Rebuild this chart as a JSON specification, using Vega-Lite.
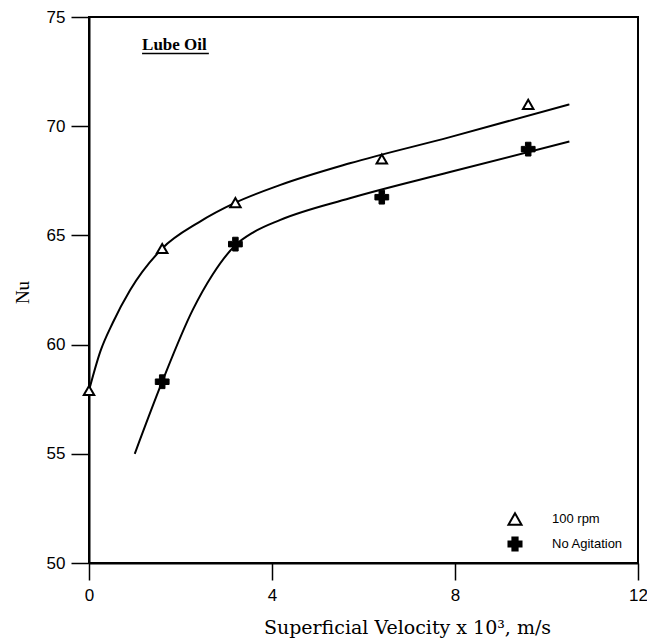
{
  "$schema": "https://vega.github.io/schema/vega-lite/v6.json",
  "width": 549,
  "height": 546,
  "autosize": {"type": "none"},
  "padding": {"left": 89, "top": 17, "right": 9, "bottom": 75},
  "background": "white",
  "config": {
    "view": {"stroke": "black", "strokeWidth": 2},
    "axis": {"grid": false, "domainColor": "black", "domainWidth": 2, "tickColor": "black", "tickWidth": 1.5, "labelColor": "black", "titleColor": "black", "labelFont": "Liberation Sans", "labelFontSize": 17, "titleFontWeight": "normal", "labelFlush": false},
    "legend": {"labelColor": "black"}
  },
  "datasets": {
    "points": [
      {"series": "100 rpm", "v": 0.0, "nu": 57.9},
      {"series": "100 rpm", "v": 1.6, "nu": 64.4},
      {"series": "100 rpm", "v": 3.2, "nu": 66.5},
      {"series": "100 rpm", "v": 6.4, "nu": 68.5},
      {"series": "100 rpm", "v": 9.6, "nu": 71.0},
      {"series": "No Agitation", "v": 1.6, "nu": 58.3},
      {"series": "No Agitation", "v": 3.2, "nu": 64.6},
      {"series": "No Agitation", "v": 6.4, "nu": 66.75},
      {"series": "No Agitation", "v": 9.6, "nu": 68.95}
    ],
    "curves": [
      {"series": "100 rpm", "v": 0.0, "nu": 57.9},
      {"series": "100 rpm", "v": 0.25, "nu": 59.7},
      {"series": "100 rpm", "v": 0.52, "nu": 61.0},
      {"series": "100 rpm", "v": 0.9, "nu": 62.5},
      {"series": "100 rpm", "v": 1.6, "nu": 64.4},
      {"series": "100 rpm", "v": 2.4, "nu": 65.6},
      {"series": "100 rpm", "v": 3.2, "nu": 66.5},
      {"series": "100 rpm", "v": 4.17, "nu": 67.3},
      {"series": "100 rpm", "v": 5.7, "nu": 68.3},
      {"series": "100 rpm", "v": 7.89, "nu": 69.5},
      {"series": "100 rpm", "v": 10.5, "nu": 71.0},
      {"series": "No Agitation", "v": 1.0, "nu": 55.0},
      {"series": "No Agitation", "v": 1.6, "nu": 58.3},
      {"series": "No Agitation", "v": 2.27, "nu": 61.6},
      {"series": "No Agitation", "v": 2.7, "nu": 63.2},
      {"series": "No Agitation", "v": 3.2, "nu": 64.55},
      {"series": "No Agitation", "v": 3.6, "nu": 65.15},
      {"series": "No Agitation", "v": 4.17, "nu": 65.7},
      {"series": "No Agitation", "v": 5.7, "nu": 66.7},
      {"series": "No Agitation", "v": 7.89, "nu": 67.9},
      {"series": "No Agitation", "v": 10.5, "nu": 69.3}
    ],
    "notes": [
      {"label": "Lube Oil", "v": 1.16, "v2": 2.62, "nu": 73.49, "nu_line": 73.33}
    ]
  },
  "layer": [
    {
      "data": {"name": "curves"},
      "mark": {"type": "line", "interpolate": "monotone", "color": "black", "strokeWidth": 2},
      "encoding": {
        "x": {"type": "quantitative", "field": "v", "scale": {"domain": [0, 12], "nice": false, "zero": false},
          "axis": {"values": [0, 4, 8, 12], "tickSize": 17, "labelPadding": 7, "title": "Superficial Velocity x 10³, m/s", "titleColor": "black", "titleFont": "DejaVu Serif", "titleFontSize": 19, "titleX": 318, "titleY": 70, "titleBaseline": "alphabetic", "titleAnchor": "middle"}},
        "y": {"type": "quantitative", "field": "nu", "scale": {"domain": [50, 75], "nice": false, "zero": false},
          "axis": {"values": [50, 55, 60, 65, 70, 75], "tickSize": 18, "labelPadding": 6, "title": "Nu", "titleColor": "black", "titleFont": "Liberation Serif", "titleFontSize": 19, "titleX": -67, "titleY": 275, "titleAngle": -90, "titleBaseline": "middle", "titleAnchor": "middle"}},
        "detail": {"field": "series"}
      }
    },
    {
      "data": {"name": "points"},
      "transform": [{"filter": "datum.series === '100 rpm'"}],
      "mark": {"type": "point", "strokeWidth": 2, "size": 110, "opacity": 1},
      "encoding": {
        "x": {"type": "quantitative", "field": "v"},
        "y": {"type": "quantitative", "field": "nu"},
        "shape": {"field": "series", "type": "nominal", "scale": {"domain": ["100 rpm", "No Agitation"], "range": ["triangle-up", "cross"]},
          "legend": {"title": null, "orient": "none", "legendX": 418, "legendY": 494, "padding": 0, "symbolSize": 170, "symbolStrokeWidth": 2, "labelOffset": 29, "labelFont": "Liberation Sans", "labelFontSize": 13, "labelColor": "black", "rowPadding": 4}},
        "fill": {"field": "series", "type": "nominal", "scale": {"domain": ["100 rpm", "No Agitation"], "range": ["white", "black"]},
          "legend": {"title": null, "orient": "none", "legendX": 418, "legendY": 494, "padding": 0, "symbolSize": 170, "symbolStrokeWidth": 2, "labelOffset": 29, "labelFont": "Liberation Sans", "labelFontSize": 13, "labelColor": "black", "rowPadding": 4}},
        "stroke": {"field": "series", "type": "nominal", "scale": {"domain": ["100 rpm", "No Agitation"], "range": ["black", "black"]},
          "legend": {"title": null, "orient": "none", "legendX": 418, "legendY": 494, "padding": 0, "symbolSize": 170, "symbolStrokeWidth": 2, "labelOffset": 29, "labelFont": "Liberation Sans", "labelFontSize": 13, "labelColor": "black", "rowPadding": 4}}
      }
    },
    {
      "data": {"name": "points"},
      "transform": [{"filter": "datum.series === 'No Agitation'"}],
      "mark": {"type": "point", "strokeWidth": 1, "size": 190, "opacity": 1},
      "encoding": {
        "x": {"type": "quantitative", "field": "v"},
        "y": {"type": "quantitative", "field": "nu"},
        "shape": {"field": "series", "type": "nominal"},
        "fill": {"field": "series", "type": "nominal"},
        "stroke": {"field": "series", "type": "nominal"}
      }
    },
    {
      "data": {"name": "notes"},
      "mark": {"type": "text", "font": "Liberation Serif", "fontWeight": "bold", "fontSize": 17, "align": "left", "baseline": "alphabetic", "color": "black"},
      "encoding": {
        "x": {"type": "quantitative", "field": "v"},
        "y": {"type": "quantitative", "field": "nu"},
        "text": {"field": "label"}
      }
    },
    {
      "data": {"name": "notes"},
      "mark": {"type": "rule", "color": "black", "strokeWidth": 1.5},
      "encoding": {
        "x": {"type": "quantitative", "field": "v"},
        "x2": {"field": "v2"},
        "y": {"type": "quantitative", "field": "nu_line"}
      }
    }
  ]
}
